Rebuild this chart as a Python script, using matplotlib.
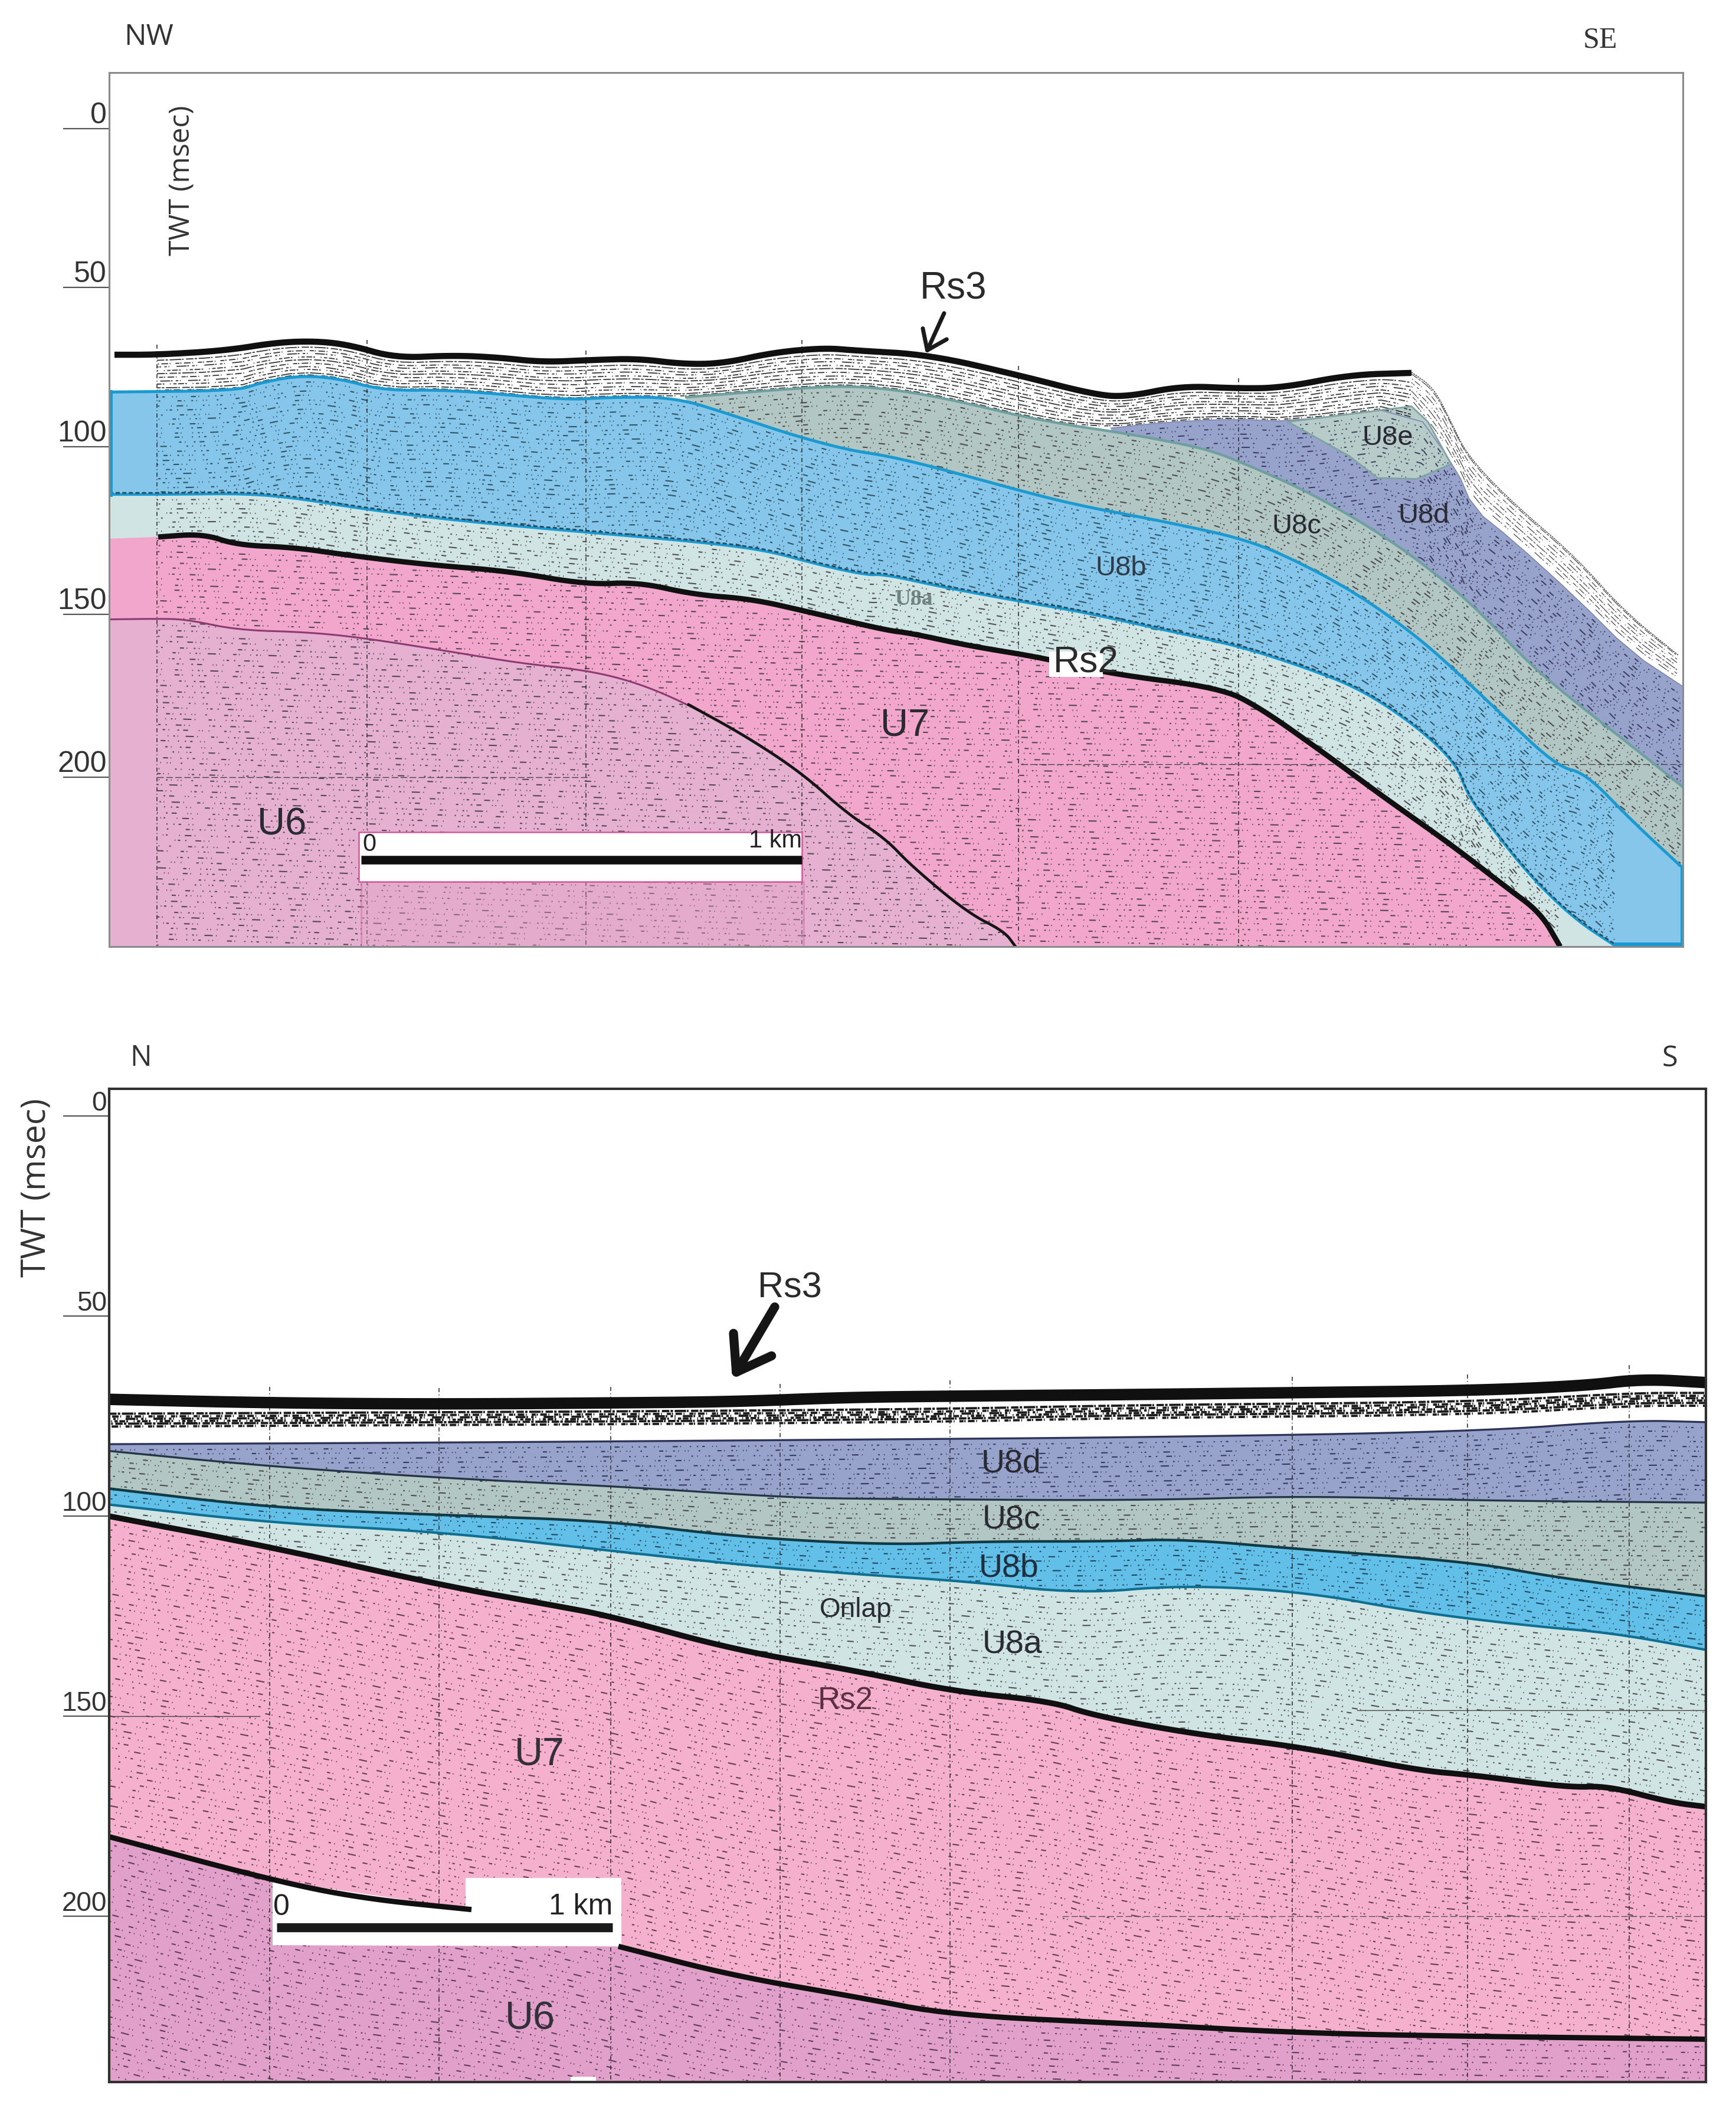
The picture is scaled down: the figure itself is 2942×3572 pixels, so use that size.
import numpy as np
import matplotlib
matplotlib.use("Agg")
import matplotlib.pyplot as plt
from matplotlib.patches import Rectangle, Polygon

plt.rcParams['lines.scale_dashes'] = False
SANS = 'Liberation Sans'
LIGHT = 'Open Sans'
SERIF = 'Liberation Serif'

# ---------- upper profile (NW-SE): x = trace position, y = TWT msec ----------
P1_SEA_X = [194,268,383,469,536,593,670,766,842,919,1005,1081,1158,1225,1311,1397,1450,1574,1726,1850,1907,2002,2097,2173,2287,2392]
P1_SEA_Y = [69.7,69.7,68.4,65.9,65.5,66.7,70.7,69.9,70.5,72,71.3,70.9,72.6,72.4,69,67.6,68.4,69.7,76,81.8,82.8,79.3,80.1,79.9,75.9,75.3]
P1_SLOPE_X = [2392,2430,2459,2487,2563,2668,2753,2844]
P1_SLOPE_Y = [75.1,79.9,90.4,100.9,115.3,131.6,148.9,162.3]
P1_U8B_TOP_X = [185,402,440,507,574,651,766,957,1033,1144,1244,1340,1435,1507,1593,1726,1831,1973,2116,2211,2306,2401,2478,2544,2639,2687,2763,2852]
P1_U8B_TOP_Y = [81.2,80.8,78.4,76.1,77,80.8,80.5,83.7,82.8,82.8,88.5,94.3,99,101,104.8,111.5,116.3,121.1,126.8,134.5,144.1,156.5,169,180.5,196.7,198.7,213,228]
P1_U8A_TOP_X = [185,287,411,498,612,766,957,1148,1292,1388,1469,1498,1593,1735,1831,1973,2097,2211,2306,2401,2468,2487,2525,2592,2668,2739]
P1_U8A_TOP_Y = [112.8,112.8,112.5,113.8,117.2,120.7,123.9,126.8,129.7,134.5,137.7,137.4,141.2,146,148.9,154.6,159.4,166.1,172.8,184.3,195.8,205.4,214.9,230.3,243.7,252.2]
P1_U8C_TOP_X = [1163,1359,1450,1545,1640,1726,1812,1883,1964,2049,2116,2211,2306,2401,2497,2592,2668,2763,2852]
P1_U8C_TOP_Y = [82.8,79.9,79.3,81.2,84.7,88.5,91.4,93.3,95.8,99,103.8,111.5,121.1,132.6,146.9,165.1,176.6,190,203]
P1_U8D_TOP_X = [1883,1983,2097,2183,2392,2468,2497,2563,2668,2763,2852]
P1_U8D_TOP_Y = [92.3,90.4,89.5,90.4,85.6,104.8,117.2,126.8,144.1,161.3,172]
P1_U8E_X = [2183,2392,2420,2459,2430,2401,2335,2287,2240]
P1_U8E_Y = [90.4,85.6,90.4,103.4,105.7,108,107.7,101,96.2]
P1_RS2_X = [185,268,344,402,498,593,727,861,995,1081,1177,1273,1368,1500,1545,1640,1769,1878,2068,2135,2240,2354,2459,2554,2611,2644]
P1_RS2_Y = [126.4,125.9,124.9,128.4,129.1,131.6,134.5,136.4,140.6,139.8,143.7,145,148.9,154.6,155.6,159.4,163.2,168,172.4,178.5,192,207.3,220.7,234.1,241.8,252.2]
P1_U6_TOP_X = [185,268,316,402,517,612,766,880,995,1081,1167,1263,1359,1435,1500,1545,1640,1702,1721]
P1_U6_TOP_Y = [151.3,151.1,151.3,154.6,155.2,156.9,161.3,164.8,167,170.9,177.6,187.2,198.7,211.1,218.8,227.4,241.8,247.5,252.2]
P1_GUIDE_X = [185,1300,2852]
P1_GUIDE_Y = [120,126,132]
P1_GRID_X = [266,622,993,1359,1726,2099]
P1_TICKS = [0,49,98,149.8,200]
P1_TICK_LABELS = ['0','50','100','150','200']

# ---------- lower profile (N-S) ----------
P2_SEA_X = [185,459,746,1033,1244,1435,1612,1926,2211,2497,2687,2782,2891]
P2_SEA_Y = [70.8,71.7,72,71.7,71.4,70.3,70,69.6,69.1,68.6,67.4,65.7,66.6]
P2_BAND_X = [185,1500,1926,2497,2763,2891]
P2_BAND_Y = [76,75.1,73.8,73.1,70.8,70.8]
P2_U8D_TOP_X = [185,766,1500,1926,2497,2763,2891]
P2_U8D_TOP_Y = [82,81.6,80.8,80.3,78.9,76,76.5]
P2_U8C_TOP_X = [185,450,766,1053,1340,1500,1926,2211,2497,2891]
P2_U8C_TOP_Y = [83.7,87.5,90.6,92.6,95.4,95.7,96.1,94.9,96.1,96.6]
P2_U8B_TOP_X = [185,459,746,1033,1244,1500,1669,1878,2002,2192,2497,2639,2891]
P2_U8B_TOP_Y = [93.1,97.9,99.7,101.2,105.1,107.2,106.3,106.3,105.7,108.1,111.5,115.4,120]
P2_U8A_TOP_X = [185,459,746,1033,1244,1450,1640,1831,2002,2211,2401,2592,2734,2891]
P2_U8A_TOP_Y = [97.1,101.7,103.9,108.6,112,114.5,116.3,119.4,117.2,118.9,124,127.4,129.2,133.4]
P2_RS2_X = [185,459,746,938,1033,1244,1450,1612,1783,1850,2021,2211,2401,2497,2658,2725,2830,2891]
P2_RS2_Y = [100,107.7,117.2,122.3,124.9,133.4,138.6,143.7,146.3,149.7,154.4,157.8,163.5,164.7,167.8,167.4,171.5,172.6]
P2_U6_TOP_X = [185,459,612,799,1048,1244,1450,1612,1926,2211,2497,2891]
P2_U6_TOP_Y = [180.1,190.9,195.5,198.3,207.5,214.9,220.1,224.7,226.9,229.2,230,230.7]
P2_GRID_X = [457,744,1035,1322,1610,2190,2487,2761]
P2_TICKS = [0,50,100,150,200]
P2_TICK_LABELS = ['0','50','100','150','200']

# ---------- colours and speckle patterns ----------
C_U8E, C_U8D, C_U8C = '#b7cbc8', '#98a3cb', '#b2c6c3'
C_U8B1, C_U8B2, C_U8A = '#86c6ea', '#62bfe8', '#d0e5e3'
C_U7_1, C_U7_2, C_U6_1, C_U6_2 = '#f2a6cb', '#f5b0cd', '#e6b1d0', '#e1a0c9'
SPECKLE = [(1.5,5,3,9,1,4,1,17,6,3,1,11,1.5,7), (1,9,1,3,2,14,1,6,8,4,1,19,2,5),
           (2,4,1,7,1,3,1,12,2,21,5,3,1,8), (1.5,11,7,3,1,5,1,24,1,3,3,6),
           (4,3,1,13,1,6,2,3,1,9,10,4,1,16), (1,3,1,7,1,18,3,4,1,10,2,5,6,13)]
BAND_DASH = [(9,1.5,3,2,14,1,2,3), (5,1,1.5,3,8,2,1,6), (12,1,2,4,3,2,1,9), (4,2,7,1.5,2,7,1,3)]


def sm(x, y, iterations=3):
    """Round the corners of a digitised horizon (corner cutting; ends are kept)."""
    p = np.column_stack([x, y]).astype(float)
    for _ in range(iterations):
        q = np.empty((2 * len(p) - 2, 2))
        q[0::2] = .75 * p[:-1] + .25 * p[1:]
        q[1::2] = .25 * p[:-1] + .75 * p[1:]
        p = np.vstack([p[:1], q, p[-1:]])
    return p[:, 0], p[:, 1]


def layer(ax, curve, ybot, col):
    x, y = curve
    ax.add_patch(Polygon(np.column_stack([np.r_[x, x[-1], x[0]], np.r_[y, ybot, ybot]]),
                         fc=col, ec='none', zorder=1))


def reflectors(ax, top, bot, xfrom, xto, step, guide=None, color='#3b3540', lw=1.5, alpha=.85):
    grid = np.arange(max(top[0][0], bot[0][0], xfrom), min(top[0][-1], bot[0][-1], xto), 5.0)
    t, b = np.interp(grid, *top), np.interp(grid, *bot)
    g = np.interp(grid, *(guide if guide is not None else top))
    k0 = (t - g).min()
    for i, d in enumerate(np.arange(k0 + step * .6, (b - g).max(), step)):
        y = g + d
        y = np.ma.masked_where((y < t + .4) | (y > b - .4), y)
        for j, shift in enumerate((0, step * .45)):
            ax.plot(grid, y + shift, color=color, lw=lw, alpha=alpha, zorder=2,
                    ls=((i * 13 + j * 29) % 61, SPECKLE[(i + 2 * j) % len(SPECKLE)]),
                    dash_capstyle='butt')


def band(ax, top, bot, xfrom, xto, fractions, color='#222222', lw=1.3):
    grid = np.arange(max(top[0][0], bot[0][0], xfrom), min(top[0][-1], bot[0][-1], xto), 5.0)
    t, b = np.interp(grid, *top), np.interp(grid, *bot)
    for i, f in enumerate(fractions):
        ax.plot(grid, t + f * (b - t), color=color, lw=lw, alpha=.9, zorder=2,
                ls=(i * 5, BAND_DASH[i % len(BAND_DASH)]), dash_capstyle='butt')


def frame(ax, xl, yl, col, lw, tick_len, pad, size, ticks, labels):
    ax.set_xlim(*xl); ax.set_ylim(*yl)
    ax.set_xticks([])
    ax.set_yticks(ticks, labels)
    ax.tick_params(axis='y', length=tick_len, width=1.6, color='#555555', pad=pad,
                   labelsize=size, labelcolor='#333333')
    for t in ax.get_yticklabels():
        t.set_va('bottom'); t.set_family(SANS)
    for s in ax.spines.values():
        s.set_color(col); s.set_linewidth(lw); s.set_zorder(8)


fig = plt.figure(figsize=(29.42, 35.73), dpi=100, facecolor='white')

# ===================== upper panel =====================
a = fig.add_axes([185/2942, 1-1605/3573, (2852-185)/2942, (1605-124)/3573])
frame(a, (185, 2852), (252.2, -17.3), '#8a8a8a', 2.2, 56, -53, 36, P1_TICKS, P1_TICK_LABELS)
B1 = 252.2

stack_x = [x for x in P1_U8B_TOP_X if x <= 1144] + [x for x in P1_U8C_TOP_X if 1163 <= x <= 1812] + P1_U8D_TOP_X
stack_y = [y for x, y in zip(P1_U8B_TOP_X, P1_U8B_TOP_Y) if x <= 1144] + \
          [y for x, y in zip(P1_U8C_TOP_X, P1_U8C_TOP_Y) if 1163 <= x <= 1812] + P1_U8D_TOP_Y

u8d1, u8c1 = sm(P1_U8D_TOP_X, P1_U8D_TOP_Y, 1), sm(P1_U8C_TOP_X, P1_U8C_TOP_Y)
u8b1, u8a1 = sm(P1_U8B_TOP_X, P1_U8B_TOP_Y), sm(P1_U8A_TOP_X, P1_U8A_TOP_Y)
rs21, u61 = sm(P1_RS2_X, P1_RS2_Y), sm(P1_U6_TOP_X, P1_U6_TOP_Y)
sea1, slope1 = sm(P1_SEA_X, P1_SEA_Y), sm(P1_SLOPE_X, P1_SLOPE_Y)
guide1 = (np.array(P1_GUIDE_X, float), np.array(P1_GUIDE_Y, float))
floor1 = (np.array([185., 2852.]), np.array([B1, B1]))

layer(a, u8d1, B1, C_U8D)
layer(a, u8c1, B1, C_U8C)
a.add_patch(Polygon(np.column_stack([P1_U8E_X, P1_U8E_Y]), fc=C_U8E, ec='none', zorder=1))
layer(a, u8b1, B1, C_U8B1)
layer(a, u8a1, B1, C_U8A)
layer(a, rs21, B1, C_U7_1)
layer(a, u61, B1, C_U6_1)

# speckled reflectors inside each unit
X0 = 266
reflectors(a, u61, floor1, X0, 1720, 3.4, guide=guide1)
reflectors(a, rs21, (u61[0], u61[1]), X0, 1720, 3.4, guide=guide1)
rs2r = (np.r_[1721., rs21[0][rs21[0] > 1721]], np.r_[np.interp(1721, *rs21), rs21[1][rs21[0] > 1721]])
reflectors(a, rs2r, floor1, 1721, 2640, 3.4, guide=guide1)
reflectors(a, u8a1, rs21, X0, 2700, 2.8)
reflectors(a, u8b1, u8a1, X0, 2852, 2.8, color='#24404f')
reflectors(a, u8c1, u8b1, 1163, 2852, 2.8)
reflectors(a, u8d1, u8c1, 1883, 2852, 2.8, color='#2b2f50')

# shallow band above the stack
sea_x = P1_SEA_X + P1_SLOPE_X[1:]
sea_y = P1_SEA_Y + P1_SLOPE_Y[1:]
sea_all = sm(sea_x, sea_y, 2)
band(a, sea_all, sm(stack_x, stack_y, 1), X0, 2392, [.16, .26, .34, .44, .52, .62, .72, .8, .9, .96])
slope_bot = sm(P1_U8D_TOP_X[4:], P1_U8D_TOP_Y[4:], 1)
band(a, slope1, slope_bot, 2392, 2852, [.05, .18, .3, .42, .55, .68, .8], color='#333333', lw=.9)

# vertical trace marks and timing lines
for gx in P1_GRID_X:
    top = np.interp(gx, *sea_all) - 3
    a.plot([gx, gx], [top, B1], color='#333333', lw=1.2, ls=(0, (5, 3, 1, 3)), zorder=2)
a.plot([266, 1000], [200, 200], color='#444444', lw=1, ls=(0, (8, 3)), zorder=2)
a.plot([1730, 2852], [196, 196], color='#444444', lw=1, ls=(0, (8, 3)), zorder=2)

# boundaries
a.plot(*u8c1, color='#6f9f9f', lw=3.2, zorder=3)
a.plot(*u8d1, color='#7c86b4', lw=1.2, zorder=3)
a.plot(P1_U8E_X + P1_U8E_X[:1], P1_U8E_Y + P1_U8E_Y[:1], color='#7fa3a3', lw=2, zorder=3)
a.plot(*u8b1, color='#1b9ad2', lw=3.6, zorder=3)
a.plot(*u8a1, color='#1b9ad2', lw=3.2, zorder=3)
a.plot(u8a1[0], u8a1[1] - .5, color='#244a5c', lw=2, ls=(0, (5, 3)), zorder=3)
a.plot([187, 187], [81.2, 112.8], color='#1b9ad2', lw=5, zorder=3)
a.plot([2851, 2851, 2739], [228, 251.5, 251.5], color='#1b9ad2', lw=5, zorder=3)
a.plot(*sm(P1_RS2_X[1:], P1_RS2_Y[1:]), color='#101010', lw=6.5, zorder=3, solid_capstyle='butt')
a.plot(*u61, color='#8e3a72', lw=2.2, zorder=3)
a.plot(*sm(P1_U6_TOP_X[10:], P1_U6_TOP_Y[10:]), color='#151515', lw=3.4, zorder=3)
a.plot(*sea1, color='#101010', lw=7.5, zorder=3, solid_capstyle='butt')
a.plot(*slope1, color='#333333', lw=1, ls=(0, (2, 1)), zorder=3)

# scale bar
a.add_patch(Rectangle((608, 216.9), 751, 15.3, fc='white', ec='#d05a9e', lw=1.8, zorder=4))
a.add_patch(Rectangle((612, 232.2), 750, 20, fc='#e3a2c8', ec='#cf4f97', lw=2, alpha=.4, zorder=2.5))
a.plot([612, 1359], [225.5, 225.5], color='#101010', lw=10.5, zorder=5, solid_capstyle='butt')
a.text(626, 220.5, '0', fontsize=30, family=SANS, ha='center', va='center', color='#222222', zorder=6)
a.text(1359, 219.5, '1 km', fontsize=30, family=SANS, ha='right', va='center', color='#222222', zorder=6)
a.add_patch(Rectangle((1778, 161.3), 91, 7.7, fc='white', ec='none', zorder=4))

# labels
a.text(252, -28.4, 'NW', fontsize=36, family=LIGHT, ha='center', va='center', color='#333333', clip_on=False)
a.text(2712, -27.4, 'SE', fontsize=36, family=SERIF, ha='center', va='center', color='#333333', clip_on=False)
a.text(308, 15.7, 'TWT (msec)', fontsize=34.5, family=LIGHT, rotation=90, ha='center', va='center', color='#333333')
for s, x, y, fs, fam, w, col in [('U6', 478, 214.4, 47, SANS, 'normal', '#2a2a33'),
                                ('U7', 1534, 183.9, 47, SANS, 'normal', '#2a2a33'),
                                ('U8a', 1548, 145, 27, SERIF, 'bold', '#6f8583'),
                                ('U8b', 1900, 135.4, 34, SANS, 'normal', '#2f3b48'),
                                ('U8c', 2197, 122.4, 34, SANS, 'normal', '#2a2a33'),
                                ('U8d', 2413, 119.2, 34, SANS, 'normal', '#2a2a33'),
                                ('U8e', 2352, 95.2, 34, SANS, 'normal', '#2a2a33'),
                                ('Rs2', 1840, 164.5, 45, SANS, 'normal', '#2a2a2a'),
                                ('Rs3', 1616, 49.2, 46, SANS, 'normal', '#2a2a2a')]:
    a.text(x, y, s, fontsize=fs, family=fam, fontweight=w, ha='center', va='center', color=col, zorder=6)
a.annotate('', xy=(1569, 69.3), xytext=(1600, 56.9), zorder=6,
           arrowprops=dict(arrowstyle='->,head_length=.55,head_width=.4', color='#1a1a1a', lw=5,
                           mutation_scale=40, shrinkA=0, shrinkB=0))

# ===================== lower panel =====================
b = fig.add_axes([185/2942, 1-3529/3573, (2891-185)/2942, (3529-1846)/3573])
frame(b, (185, 2891), (241.4, -6.8), '#303030', 3, 56, -53, 33, P2_TICKS, P2_TICK_LABELS)
B2 = 241.4

u8d2, u8c2 = sm(P2_U8D_TOP_X, P2_U8D_TOP_Y), sm(P2_U8C_TOP_X, P2_U8C_TOP_Y)
u8b2, u8a2 = sm(P2_U8B_TOP_X, P2_U8B_TOP_Y), sm(P2_U8A_TOP_X, P2_U8A_TOP_Y)
rs22, u62 = sm(P2_RS2_X, P2_RS2_Y), sm(P2_U6_TOP_X, P2_U6_TOP_Y)
sea2, band2 = sm(P2_SEA_X, P2_SEA_Y), sm(P2_BAND_X, P2_BAND_Y)
floor2 = (np.array([185., 2891.]), np.array([B2, B2]))

layer(b, u8d2, B2, C_U8D)
layer(b, u8c2, B2, C_U8C)
layer(b, u8b2, B2, C_U8B2)
layer(b, u8a2, B2, C_U8A)
layer(b, rs22, B2, C_U7_2)
layer(b, u62, B2, C_U6_2)

reflectors(b, rs22, u62, 185, 2891, 3.2, color='#4a2a3c')
reflectors(b, u62, floor2, 185, 2891, 3.2, color='#4a2a4a')
reflectors(b, u8a2, rs22, 185, 2891, 2.8)
reflectors(b, u8b2, u8a2, 185, 2891, 2.4, color='#17344a')
reflectors(b, u8c2, u8b2, 185, 2891, 2.4)
reflectors(b, u8d2, u8c2, 185, 2891, 2.4, color='#232848')

# shallow, nearly solid reflector band
for i, off in enumerate([-1.6, -.9, -.3, .3, .9, 1.6]):
    b.plot(band2[0], band2[1] + off, color='#1c1c1c', lw=2.8, zorder=2,
           ls=(i * 7, BAND_DASH[i % len(BAND_DASH)]), dash_capstyle='butt')

for gx in P2_GRID_X:
    b.plot([gx, gx], [np.interp(gx, *sea2) - 4, B2], color='#333333', lw=1.2,
           ls=(0, (5, 3, 1, 3)), zorder=2)
b.plot([185, 440], [150, 150], color='#444444', lw=1, zorder=2)
b.plot([2300, 2891], [148.5, 148.5], color='#444444', lw=1, zorder=2)
b.plot([1800, 2891], [200, 200], color='#555555', lw=1, ls=(0, (8, 3)), zorder=2)

b.plot(*u8d2, color='#2e3358', lw=2.4, zorder=3)
b.plot(*u8c2, color='#253545', lw=2.4, zorder=3)
b.plot(*u8b2, color='#123a44', lw=3.2, zorder=3)
b.plot(*u8a2, color='#0f6f92', lw=3, zorder=3)
b.plot(*rs22, color='#101010', lw=7, zorder=3, solid_capstyle='butt')
b.plot(*sea2, color='#101010', lw=14, zorder=3, solid_capstyle='butt')

# scale bar box and the interrupted U6 top
b.add_patch(Polygon(np.column_stack([[462, 799, 789, 789, 1053, 1053, 462], [191, 198.3, 198, 190.4, 190.4, 207.5, 207.2]]),
                    fc='white', ec='none', zorder=4))
b.plot(*sm(P2_U6_TOP_X[:4], P2_U6_TOP_Y[:4]), color='#101010', lw=6.5, zorder=5, solid_capstyle='butt')
b.plot(*sm(P2_U6_TOP_X[4:], P2_U6_TOP_Y[4:]), color='#101010', lw=6.5, zorder=5, solid_capstyle='butt')
b.plot([469, 1038], [202.7, 202.7], color='#1a1a1a', lw=11, zorder=5, solid_capstyle='butt')
b.text(477, 197.6, '0', fontsize=36, family=SANS, ha='center', va='center', color='#222222', zorder=6)
b.text(1038, 197.4, '1 km', fontsize=36, family=SANS, ha='right', va='center', color='#222222', zorder=6)
b.add_patch(Rectangle((967, 240), 43, 2, fc='white', ec='none', zorder=4))

b.text(239, -14.6, 'N', fontsize=35, family=LIGHT, ha='center', va='center', color='#333333', clip_on=False)
b.text(2830, -14.4, 'S', fontsize=35, family=LIGHT, ha='center', va='center', color='#333333', clip_on=False)
b.text(62, 17.7, 'TWT (msec)', fontsize=41, family=LIGHT, rotation=90, ha='center', va='center', color='#333333', clip_on=False)
for s, x, y, fs, col in [('Rs3', 1338, 42.9, 44, '#2a2a2a'), ('U8d', 1714, 86.8, 40, '#2a2a33'),
                         ('U8c', 1714, 100.9, 40, '#2a2a33'), ('U8b', 1710, 112.9, 40, '#1e3040'),
                         ('U8a', 1716, 132.1, 40, '#2a2a33'), ('Onlap', 1450, 123.2, 33, '#2a2a33'),
                         ('Rs2', 1433, 146, 38, '#5a3040'), ('U7', 914, 159.5, 48, '#33303a'),
                         ('U6', 898, 225.6, 48, '#33303a')]:
    b.text(x, y, s, fontsize=fs, family=SANS, ha='center', va='center', color=col, zorder=6)
b.annotate('', xy=(1241, 65.7), xytext=(1313, 47.7), zorder=6,
           arrowprops=dict(arrowstyle='->,head_length=.65,head_width=.45', color='#151515', lw=11,
                           mutation_scale=60, shrinkA=0, shrinkB=0))

fig.savefig('out.png', dpi=100, facecolor='white')
